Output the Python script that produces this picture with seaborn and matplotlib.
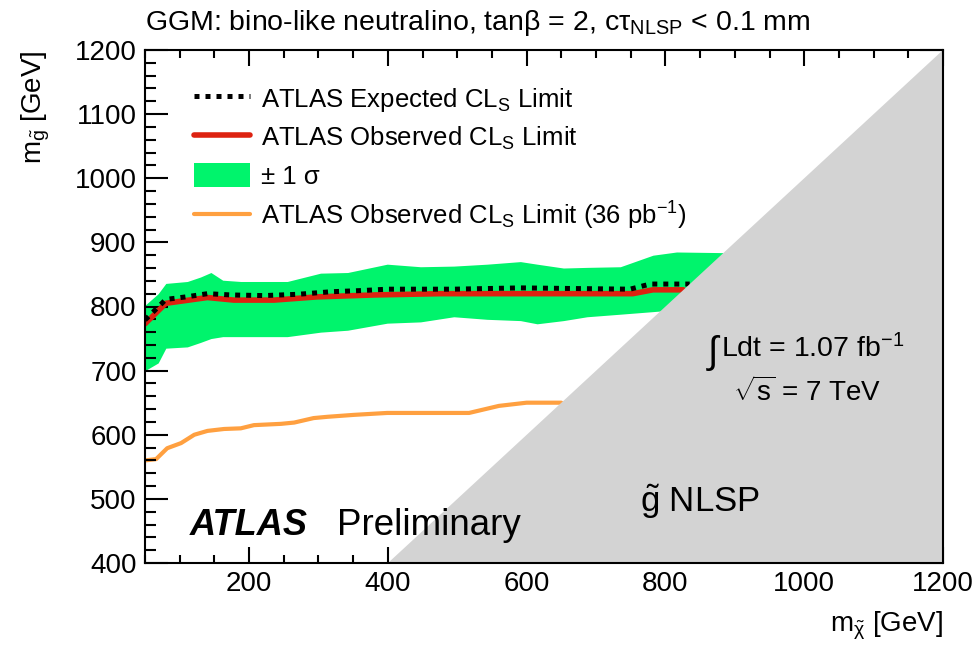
import numpy as np
import pandas as pd
import matplotlib
matplotlib.use("Agg")
import matplotlib.pyplot as plt
import seaborn as sns
from matplotlib.patches import Polygon, Patch
from matplotlib.lines import Line2D
from matplotlib.ticker import MultipleLocator

# ---------------- data ----------------
exp_x = [50, 80, 109, 140, 174, 221, 270, 318, 365, 399, 461, 495, 591, 749, 778, 835]
exp_y = [779, 811, 815, 820, 818, 817, 819, 823, 825, 827, 827, 827, 829, 827, 835, 835]

obs_x = [50, 80, 140, 178, 236, 298, 380, 476, 600, 753, 782, 826]
obs_y = [773, 805, 814, 810, 810, 815, 818, 820, 820, 820, 826, 826]

band_x  = [50, 69, 80, 111, 130, 145, 162, 188, 255, 303, 342, 399, 447, 495, 543, 591, 615, 653, 687, 735, 782, 816, 883]
band_lo = [700, 712, 735, 737, 744, 750, 753, 753, 753, 760, 763, 774, 776, 784, 780, 778, 773, 778, 784, 788, 792, 795, 800]
band_hi = [802, 820, 836, 839, 846, 853, 841, 839, 839, 852, 853, 866, 862, 863, 866, 870, 866, 860, 861, 862, 880, 885, 884]

old_x = [50, 66, 82, 102, 121, 140, 164, 188, 207, 246, 265, 293, 313, 351, 399, 437, 517, 560, 600, 650]
old_y = [560, 562, 579, 587, 600, 606, 609, 610, 615, 617, 619, 626, 628, 631, 634, 634, 634, 645, 650, 650]

xlim = (50, 1200)
ylim = (400, 1200)
xticks = [200, 400, 600, 800, 1000, 1200]
yticks = [400, 500, 600, 700, 800, 900, 1000, 1100, 1200]

# ---------------- style ----------------
sns.set_style("ticks")
plt.rcParams['font.family'] = ['Liberation Sans', 'DejaVu Sans']
plt.rcParams['mathtext.fontset'] = 'custom'
plt.rcParams['mathtext.rm'] = 'Liberation Sans'
plt.rcParams['mathtext.it'] = 'Liberation Sans:italic'
plt.rcParams['mathtext.bf'] = 'Liberation Sans:bold'
plt.rcParams['mathtext.sf'] = 'Liberation Sans'
plt.rcParams['text.color'] = 'black'
plt.rcParams['axes.labelcolor'] = 'black'
plt.rcParams['xtick.color'] = 'black'
plt.rcParams['ytick.color'] = 'black'
plt.rcParams['axes.edgecolor'] = 'black'

fig = plt.figure(figsize=(9.73, 6.49), dpi=100)
ax = fig.add_axes([145/973, 1-563/649, (943-145)/973, (563-50)/649])

GREEN = '#00F46C'
RED = '#DD2211'
ORANGE = '#FFA040'
GRAY = '#D3D3D3'

ax.fill_between(band_x, band_lo, band_hi, color=GREEN, lw=0, zorder=1)

df_old = pd.DataFrame({'x': old_x, 'y': old_y})
df_obs = pd.DataFrame({'x': obs_x, 'y': obs_y})
df_exp = pd.DataFrame({'x': exp_x, 'y': exp_y})
sns.lineplot(data=df_old, x='x', y='y', ax=ax, color=ORANGE, lw=3, sort=False, zorder=2)
sns.lineplot(data=df_obs, x='x', y='y', ax=ax, color=RED, lw=4, sort=False, zorder=3)
sns.lineplot(data=df_exp, x='x', y='y', ax=ax, color='black', lw=3.6, sort=False, zorder=4,
             linestyle=(0, (1, 1.2)))

# kinematically forbidden region (gluino NLSP)
tri = Polygon([[400, 400], [1200, 400], [1200, 1200]], closed=True, facecolor=GRAY,
              edgecolor='none', zorder=5)
ax.add_patch(tri)

ax.set_xlim(*xlim)
ax.set_ylim(*ylim)
ax.set_xticks(xticks)
ax.set_yticks(yticks)
ax.xaxis.set_minor_locator(MultipleLocator(50))
ax.yaxis.set_minor_locator(MultipleLocator(20))
ax.tick_params(axis='both', which='both', direction='in', top=True, right=True,
               labelsize=20, width=1.5, colors='black', labelcolor='black', pad=6)
ax.tick_params(axis='x', which='major', length=11.5)
ax.tick_params(axis='x', which='minor', length=5.5)
ax.tick_params(axis='y', which='major', length=16.5)
ax.tick_params(axis='y', which='minor', length=8)
ax.set_xlabel('')
ax.set_ylabel('')
for s in ax.spines.values():
    s.set_linewidth(1.5)
    s.set_zorder(10)
    s.set_visible(True)
    s.set_color('black')
ax.set_axisbelow(False)

# legend
handles = [
    Line2D([], [], color='black', lw=3.6, linestyle=(0, (1, 1.2))),
    Line2D([], [], color=RED, lw=4),
    Patch(facecolor=GREEN, edgecolor='none'),
    Line2D([], [], color=ORANGE, lw=3),
]
labels = [
    r'ATLAS Expected CL$_{\rm S}$ Limit',
    r'ATLAS Observed CL$_{\rm S}$ Limit',
    '± 1 σ',
    r'ATLAS Observed CL$_{\rm S}$ Limit (36 pb$^{-1}$)',
]
leg = ax.legend(handles, labels, loc='upper left', bbox_to_anchor=(0.062, 0.93),
                frameon=False, fontsize=18.5, handlelength=2.15, handleheight=1.1,
                handletextpad=0.45, labelspacing=0.42, borderaxespad=0, borderpad=0)
leg.set_zorder(20)
for t in leg.get_texts():
    t.set_color('black')

# texts
ax.text(115, 443, 'ATLAS', fontsize=26, fontweight='bold', fontstyle='italic', zorder=20)
ax.text(327, 443, 'Preliminary', fontsize=26.5, zorder=20)
ax.text(858, 712, r'$\int$', fontsize=27, zorder=20)
ax.text(880, 720, r'Ldt = 1.07 fb$^{-1}$', fontsize=20.5, zorder=20)
ax.text(898, 652, r'$\sqrt{\rm s}$ = 7 TeV', fontsize=20, zorder=20)
ax.text(763, 480, r'$\tilde{\rm g}$ NLSP', fontsize=25, zorder=20)

fig.text(145/973, 1-30/649, r'GGM: bino-like neutralino, tanβ = 2, cτ$_{\rm NLSP}$ < 0.1 mm',
         fontsize=20.5, ha='left', va='baseline')
fig.text(36/973, 1-50/649, r'm$_{\tilde{\rm g}}$ [GeV]', fontsize=20, rotation=90,
         ha='center', va='top')
fig.text(943/973, 1-632/649, r'm$_{\tilde{\mathrm{χ}}}$ [GeV]', fontsize=20, ha='right', va='baseline')

fig.savefig('out.png', dpi=100)
